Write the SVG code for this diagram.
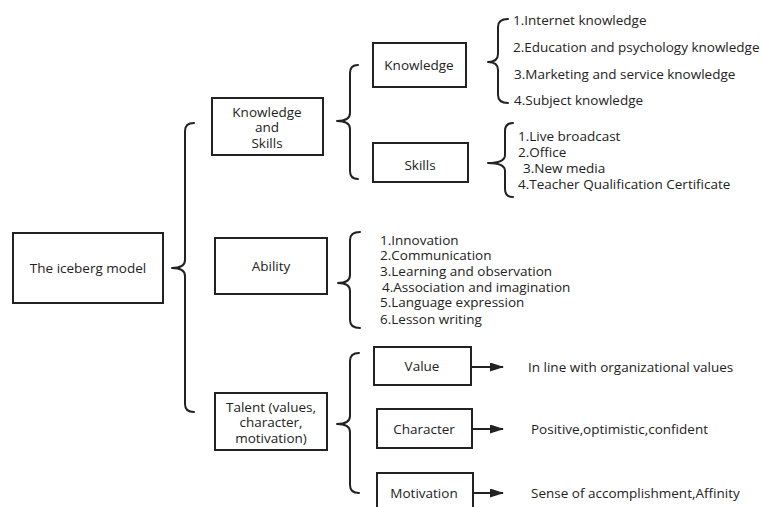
<svg xmlns="http://www.w3.org/2000/svg" width="762" height="507" viewBox="0 0 762 507">
<defs>
<style>
text{font-family:"Open Sans","Noto Sans","DejaVu Sans",sans-serif;font-size:13.5px;fill:#222;dominant-baseline:central}
.c{text-anchor:middle}
.box{fill:#fff;stroke:#222;stroke-width:2}
.br{fill:none;stroke:#222;stroke-width:2;stroke-linecap:round;stroke-linejoin:round}
.ar{stroke:#222;stroke-width:2;fill:none}
</style>
<marker id="ah" markerWidth="14" markerHeight="9" refX="13" refY="4.5" orient="auto" markerUnits="userSpaceOnUse" viewBox="0 0 14 9">
<path d="M0,0 L14,4.5 L0,9 Z" fill="#222"/>
</marker>
</defs>
<rect width="762" height="507" fill="#fff"/>
<g id="connectors">
<path class="br" d="M194,123 Q185,123 185,131 L185,260 Q185,268 172,268 Q185,268 185,276 L185,404 Q185,412 194,412"/>
<path class="br" d="M358,65 Q350,65 350,73 L350,113 Q350,121 337,121 Q350,121 350,129 L350,171 Q350,179 358,179"/>
<path class="br" d="M508,19 Q498,19 498,27 L498,54 Q498,62 488,62 Q498,62 498,70 L498,95 Q498,103 508,103"/>
<path class="br" d="M513,123 Q505,123 505,131 L505,155 Q505,163 488,163 Q505,163 505,171 L505,189 Q505,197 513,197"/>
<path class="br" d="M360,232 Q350,232 350,240 L350,275 Q350,283 338,283 Q350,283 350,291 L350,320 Q350,328 360,328"/>
<path class="br" d="M359,353 Q350,353 350,361 L350,416 Q350,424 337,424 Q350,424 350,432 L350,485 Q350,493 359,493"/>
<line class="ar" x1="472" y1="367" x2="503" y2="367" marker-end="url(#ah)"/>
<line class="ar" x1="472" y1="429" x2="503" y2="429" marker-end="url(#ah)"/>
<line class="ar" x1="473" y1="493" x2="503" y2="493" marker-end="url(#ah)"/>
</g>
<g id="iceberg">
<rect class="box" x="13" y="233" width="150" height="70"/>
<text class="c" x="88" y="268">The iceberg model</text>
</g>
<g id="knowledge-skills">
<rect class="box" x="212" y="98" width="111" height="57"/>
<text class="c" x="267" y="112">Knowledge</text>
<text class="c" x="267" y="127">and</text>
<text class="c" x="267" y="143">Skills</text>
</g>
<g id="ability">
<rect class="box" x="215" y="238" width="112" height="56"/>
<text class="c" x="271" y="266">Ability</text>
</g>
<g id="talent">
<rect class="box" x="215" y="393" width="112" height="57"/>
<text class="c" x="271" y="407">Talent (values,</text>
<text class="c" x="271" y="422">character,</text>
<text class="c" x="271" y="438">motivation)</text>
</g>
<g id="knowledge">
<rect class="box" x="373" y="43" width="93" height="44"/>
<text class="c" x="419" y="65">Knowledge</text>
</g>
<g id="skills">
<rect class="box" x="373" y="143" width="95" height="39"/>
<text class="c" x="420" y="165">Skills</text>
</g>
<g id="knowledge-items">
<text x="513" y="20">1.Internet knowledge</text>
<text x="513" y="47">2.Education and psychology knowledge</text>
<text x="514" y="74">3.Marketing and service knowledge</text>
<text x="514" y="100">4.Subject knowledge</text>
</g>
<g id="skills-items">
<text x="518" y="136">1.Live broadcast</text>
<text x="518" y="152">2.Office</text>
<text x="523" y="168">3.New media</text>
<text x="518" y="184">4.Teacher Qualification Certificate</text>
</g>
<g id="ability-items">
<text x="380" y="240">1.Innovation</text>
<text x="380" y="255">2.Communication</text>
<text x="380" y="271">3.Learning and observation</text>
<text x="382" y="287">4.Association and imagination</text>
<text x="380" y="302">5.Language expression</text>
<text x="380" y="319">6.Lesson writing</text>
</g>
<g id="value">
<rect class="box" x="374" y="347" width="97" height="38"/>
<text class="c" x="422" y="366">Value</text>
</g>
<g id="character">
<rect class="box" x="377" y="409" width="95" height="39"/>
<text class="c" x="424" y="429">Character</text>
</g>
<g id="motivation">
<rect class="box" x="377" y="473" width="96" height="40"/>
<text class="c" x="424" y="493">Motivation</text>
</g>
<g id="value-text"><text x="528" y="367">In line with organizational values</text></g>
<g id="character-text"><text x="531" y="429">Positive,optimistic,confident</text></g>
<g id="motivation-text"><text x="531" y="493">Sense of accomplishment,Affinity</text></g>
</svg>
